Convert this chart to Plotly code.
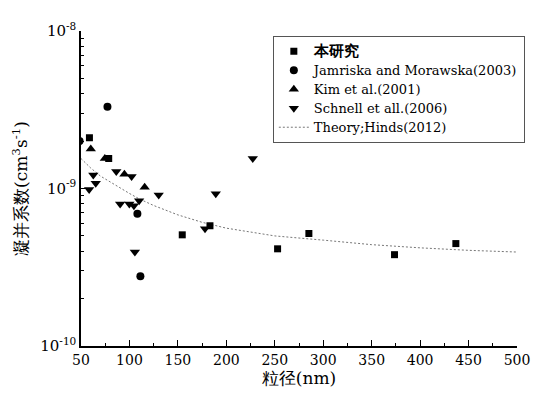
import plotly.graph_objects as go

# ---- data ----
this_x = [58.7, 78.6, 154.5, 183.1, 252.9, 285.2, 373.6, 436.9]
this_y = [2.10e-9, 1.55e-9, 5.08e-10, 5.80e-10, 4.14e-10, 5.18e-10, 3.80e-10, 4.47e-10]

jam_x = [48.5, 77.3, 108.2, 111.3]
jam_y = [2.0e-9, 3.30e-9, 6.91e-10, 2.77e-10]

kim_x = [60.1, 74.6, 94.8, 115.7]
kim_y = [1.78e-9, 1.55e-9, 1.23e-9, 1.02e-9]

sch_x = [58.4, 62.7, 65.2, 86.4, 90.4, 99.9, 102.2, 104.6, 105.6, 110.0, 130.2, 178.0, 189.1, 227.3]
sch_y = [9.86e-10, 1.22e-9, 1.08e-9, 1.28e-9, 7.96e-10, 7.96e-10, 1.19e-9, 7.78e-10,
         3.95e-10, 8.35e-10, 9.09e-10, 5.56e-10, 9.27e-10, 1.55e-9]

theory_x = [50, 60, 70, 80, 90, 100, 110, 125, 150, 175, 200, 250, 300, 350, 400, 450, 500]
theory_y = [1.55e-9, 1.35e-9, 1.20e-9, 1.10e-9, 1.01e-9, 9.3e-10, 8.6e-10, 7.8e-10, 6.8e-10,
            6.1e-10, 5.6e-10, 5.0e-10, 4.7e-10, 4.4e-10, 4.2e-10, 4.05e-10, 3.95e-10]

x_ticks = [50, 100, 150, 200, 250, 300, 350, 400, 450, 500]
x_minor = [75, 125, 175, 225, 275, 325, 375, 425, 475]
y_ticks = [1e-10, 1e-9, 1e-8]
y_ticktext = ["10<sup>-10</sup>", "10<sup>-9</sup>", "10<sup>-8</sup>"]

names = ["<b>本研究</b>", "Jamriska and Morawska(2003)", "Kim et al.(2001)",
         "Schnell et all.(2006)", "Theory;Hinds(2012)"]

FONT = "DejaVu Serif"


def nm(s, size=13):
    return '<span style="font-size:%dpx">' % size + s + "</span>"


fig = go.Figure()
fig.add_trace(go.Scatter(x=theory_x, y=theory_y, mode="lines", name=nm(names[4]),
                         line=dict(color="#777777", width=1, dash="2px,2px"),
                         legendrank=5))
fig.add_trace(go.Scatter(x=this_x, y=this_y, mode="markers", name=nm(names[0], 15),
                         marker=dict(symbol="square", size=7, color="black"), legendrank=1))
fig.add_trace(go.Scatter(x=jam_x, y=jam_y, mode="markers", name=nm(names[1]),
                         marker=dict(symbol="circle", size=8, color="black"), legendrank=2))
fig.add_trace(go.Scatter(x=kim_x, y=kim_y, mode="markers", name=nm(names[2]),
                         marker=dict(symbol="triangle-up", size=9, color="black"), legendrank=3))
fig.add_trace(go.Scatter(x=sch_x, y=sch_y, mode="markers", name=nm(names[3]),
                         marker=dict(symbol="triangle-down", size=9, color="black"), legendrank=4))

# the page body adds an 8px margin, so the figure is sized to fit the 542x402 window
fig.update_layout(
    width=534, height=394,
    margin=dict(l=69, r=20, t=14, b=56),
    paper_bgcolor="white", plot_bgcolor="white",
    font=dict(family=FONT, color="black", size=14),
    showlegend=True,
    legend=dict(x=0.44, y=0.985, xanchor="left", yanchor="top",
                bordercolor="#555555", borderwidth=1, bgcolor="rgba(255,255,255,0)",
                font=dict(family=FONT, size=11, color="black"),
                tracegroupgap=0, itemwidth=30),
    xaxis=dict(range=[50, 500], tickvals=x_ticks, ticks="inside", ticklen=6,
               tickwidth=1, tickcolor="black",
               minor=dict(tickvals=x_minor, ticks="inside", ticklen=3, tickcolor="black"),
               showline=True, linecolor="black", linewidth=1.5, showgrid=False,
               zeroline=False, tickfont=dict(family=FONT, size=14),
               title=dict(text="粒径(nm)", font=dict(family=FONT, size=17), standoff=2)),
    yaxis=dict(type="log", range=[-10, -8], tickvals=y_ticks, ticktext=y_ticktext,
               ticks="inside", ticklen=6, tickwidth=1, tickcolor="black",
               minor=dict(dtick="D1", ticks="inside", ticklen=3, tickcolor="black",
                          showgrid=False),
               showline=True, linecolor="black", linewidth=1.5, showgrid=False,
               zeroline=False, tickfont=dict(family=FONT, size=15),
               title=dict(text="凝并系数(cm<sup>3</sup>s<sup>-1</sup>)",
                          font=dict(family=FONT, size=17), standoff=8)),
)

fig.write_html("out.html")
